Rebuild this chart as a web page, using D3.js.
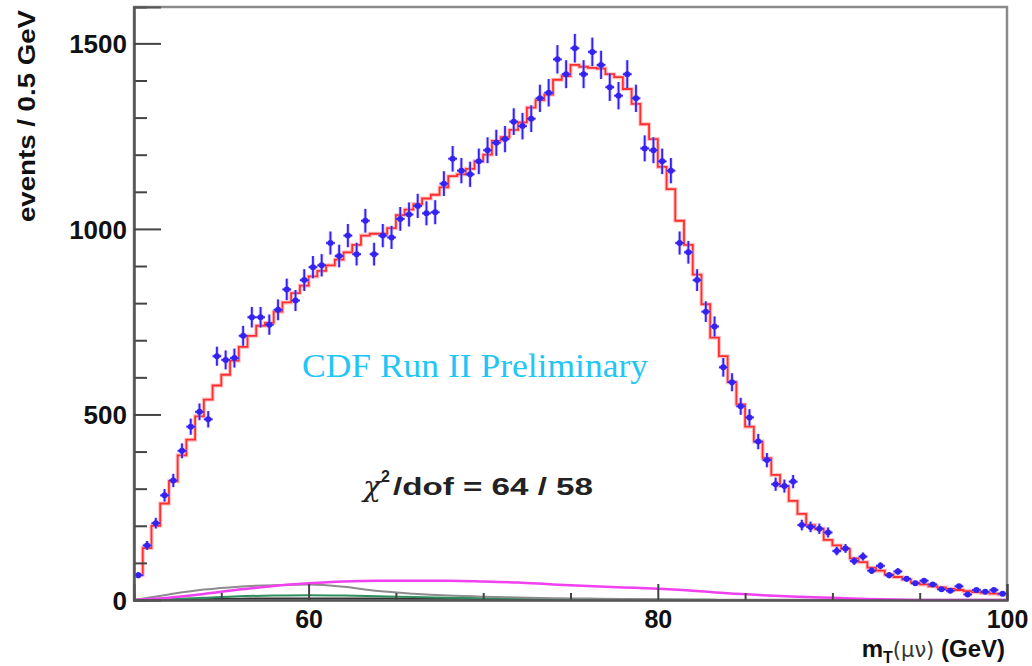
<!DOCTYPE html>
<html>
<head>
<meta charset="utf-8">
<script src="https://cdn.jsdelivr.net/npm/d3@7"></script>
<style>
  body { margin: 0; background: #fff; }
  svg { display: block; }
  .axis path { stroke: #555; stroke-width: 2px; }
  .axis line { stroke: #444; stroke-width: 2px; }
  .axis text { font: bold 26px "Liberation Sans", Arial, sans-serif; fill: #111; }
</style>
</head>
<body>
<div id="chart"></div>
<script>
// transverse mass, 0.5 GeV bins from 50 to 100 GeV
var binLow = d3.range(50, 100, 0.5);

// red histogram: full prediction
var model = [67,140,200,260,320,390,432,495,540,578,
  607,645,682,712,739,747,777,802,827,847,
  872,887,902,917,937,957,982,987,987,1002,
  1037,1052,1067,1082,1092,1112,1142,1147,1162,1182,
  1200,1237,1247,1267,1287,1327,1347,1362,1402,1412,
  1442,1437,1434,1432,1417,1409,1377,1337,1282,1242,
  1167,1107,1022,957,877,797,707,657,587,527,
  467,427,382,337,307,267,232,202,192,162,
  147,137,112,102,87,79,69,62,55,47,
  42,37,34,30,27,24,21,19,17,15];

// blue points: data
var observed = [67,147,207,282,322,402,467,507,487,657,
  647,652,712,762,762,742,782,837,807,862,
  897,902,962,927,982,932,1022,932,982,977,
  1027,1039,1062,1042,1045,1122,1189,1157,1147,1182,
  1212,1232,1242,1289,1277,1297,1352,1367,1457,1417,
  1487,1417,1477,1442,1382,1359,1417,1352,1217,1212,
  1182,1157,962,937,862,777,737,627,587,522,
  492,427,377,312,307,319,202,197,192,182,
  132,139,105,117,79,92,67,77,57,45,
  52,42,29,25,37,15,27,22,27,17];

// backgrounds, sampled every 2 GeV
var bgX = d3.range(50, 101, 2);
var bgMagenta = [0,6,16,28,38,45,50,52,52,52,50,47,42,38,34,30,25,18,13,9,6,3,1,0,0,0];
var bgGray    = [0,15,28,36,40,42,36,24,17,12,9,7,5,4,3,2,1,0,0,0,0,0,0,0,0,0];
var bgGreen   = [0,2,6,10,12,13,12,10,8,6,5,4,3,2,2,1,1,0,0,0,0,0,0,0,0,0];
var bgDark    = [0,1,3,4,5,5,5,5,4,4,3,3,2,2,1,1,0,0,0,0,0,0,0,0,0,0];

var xMajor = [60, 80, 100];
var xMinor = [55, 65, 70, 75, 85, 90, 95];
var yMajor = [0, 500, 1000, 1500];
var yMinor = [100,200,300,400,600,700,800,900,1100,1200,1300,1400];

var W = 1032, H = 666;
var margin = {top: 7, right: 25, bottom: 66, left: 134},
    width = W - margin.left - margin.right,
    height = H - margin.top - margin.bottom;

var x = d3.scaleLinear().domain([50, 100]).range([0, width]);
var y = d3.scaleLinear().domain([0, 1598]).range([height, 0]);

var svg = d3.select('#chart').append('svg')
    .attr('width', W).attr('height', H);
var g = svg.append('g')
    .attr('transform', 'translate(' + margin.left + ',' + margin.top + ')');

// frame
g.append('rect').attr('x', 0).attr('y', 0)
  .attr('width', width).attr('height', height)
  .style('fill', 'none').style('stroke', '#8a8a8a').style('stroke-width', 2.5);

// background curves
var bgLine = d3.line()
  .x(function(d, i){ return x(bgX[i]); })
  .y(function(d){ return y(d); })
  .curve(d3.curveMonotoneX);
[[bgDark, '#333333', 1.5], [bgGreen, '#2f8f5f', 2], [bgGray, '#8c8c8c', 2], [bgMagenta, '#f040f0', 2.5]]
  .forEach(function(c){
    g.append('path').datum(c[0]).attr('d', bgLine)
      .style('fill', 'none').style('stroke', c[1]).style('stroke-width', c[2]);
  });

// model histogram
var steps = binLow.map(function(v, i){ return [v, model[i]]; });
steps.push([100, model[model.length - 1]]);
var stepLine = d3.line()
  .x(function(d){ return x(d[0]); })
  .y(function(d){ return y(d[1]); })
  .curve(d3.curveStepAfter);
g.append('path').datum(steps).attr('d', stepLine)
  .style('fill', 'none').style('stroke', '#ff9a9a').style('stroke-width', 4).style('opacity', 0.6);
g.append('path').datum(steps).attr('d', stepLine)
  .style('fill', 'none').style('stroke', '#ff2f2f').style('stroke-width', 1.8);

// data points with sqrt(N) errors
var pts = g.append('g');
var dataRows = binLow.map(function(v, i){ return {lo: v, hi: v + 0.5, n: observed[i]}; });
[['#a99cff', 3.5, 0.55], ['#3322f0', 1.8, 1]].forEach(function(st){
  var sel = pts.selectAll(null).data(dataRows).enter().append('g')
    .style('stroke', st[0]).style('stroke-width', st[1]).style('opacity', st[2]);
  sel.append('line')
    .attr('x1', function(d){ return x((d.lo + d.hi) / 2); })
    .attr('x2', function(d){ return x((d.lo + d.hi) / 2); })
    .attr('y1', function(d){ return y(d.n - Math.sqrt(d.n)); })
    .attr('y2', function(d){ return y(d.n + Math.sqrt(d.n)); });
  sel.append('line')
    .attr('x1', function(d){ return x(d.lo); })
    .attr('x2', function(d){ return x(d.hi); })
    .attr('y1', function(d){ return y(d.n); })
    .attr('y2', function(d){ return y(d.n); });
});
pts.selectAll('circle').data(dataRows).enter().append('circle')
  .attr('cx', function(d){ return x((d.lo + d.hi) / 2); })
  .attr('cy', function(d){ return y(d.n); })
  .attr('r', 3)
  .style('fill', '#3322f0');

// axes
g.append('g').attr('class', 'axis')
  .call(d3.axisLeft(y).tickValues(yMinor).tickSize(-13).tickFormat(''));
g.append('g').attr('class', 'axis')
  .call(d3.axisLeft(y).tickValues(yMajor).tickSize(-27).tickPadding(7).tickFormat(d3.format('d')))
  .selectAll('text').attr('dy', '0.36em');
g.append('g').attr('class', 'axis')
  .attr('transform', 'translate(0,' + height + ')')
  .call(d3.axisBottom(x).tickValues(xMinor).tickSize(-7).tickFormat(''));
g.append('g').attr('class', 'axis')
  .attr('transform', 'translate(0,' + height + ')')
  .call(d3.axisBottom(x).tickValues(xMajor).tickSize(-16).tickPadding(10).tickFormat(d3.format('d')))
  .selectAll('text').style('font-size', '25px');

// axis titles
svg.append('text')
  .attr('transform', 'translate(35,10) rotate(-90)')
  .attr('text-anchor', 'end')
  .attr('textLength', 212).attr('lengthAdjust', 'spacingAndGlyphs')
  .style('font', 'bold 23px "Liberation Sans", Arial, sans-serif')
  .style('fill', '#111')
  .text('events / 0.5 GeV');

var xt = svg.append('text')
  .attr('x', 1005).attr('y', 657)
  .attr('text-anchor', 'end')
  .style('font', 'bold 24px "Liberation Sans", Arial, sans-serif')
  .style('fill', '#111');
xt.append('tspan').text('m');
xt.append('tspan').attr('dy', 6).style('font-size', '16px').text('T');
xt.append('tspan').attr('dy', -6).style('font-weight', 'normal').style('fill', '#333')
  .style('font-family', '"DejaVu Sans", sans-serif').style('font-size', '21px').text('(μν)');
xt.append('tspan').text(' (GeV)');

// annotations
svg.append('text')
  .attr('x', 302).attr('y', 377)
  .attr('textLength', 346).attr('lengthAdjust', 'spacingAndGlyphs')
  .style('font', '33px "Liberation Serif", "Times New Roman", serif')
  .style('fill', '#22c6f6')
  .text('CDF Run II Preliminary');

svg.append('text')
  .attr('x', 363).attr('y', 496)
  .attr('textLength', 18).attr('lengthAdjust', 'spacingAndGlyphs')
  .style('font', 'italic 28px "DejaVu Serif", serif')
  .style('fill', '#222')
  .text('χ');
svg.append('text')
  .attr('x', 381).attr('y', 482)
  .style('font', 'bold 16px "Liberation Sans", Arial, sans-serif')
  .style('fill', '#222')
  .text('2');
svg.append('text')
  .attr('x', 393).attr('y', 495)
  .attr('textLength', 200).attr('lengthAdjust', 'spacingAndGlyphs')
  .style('font', 'bold 24px "Liberation Sans", Arial, sans-serif')
  .style('fill', '#222')
  .text('/dof = 64 / 58');
</script>
</body>
</html>
